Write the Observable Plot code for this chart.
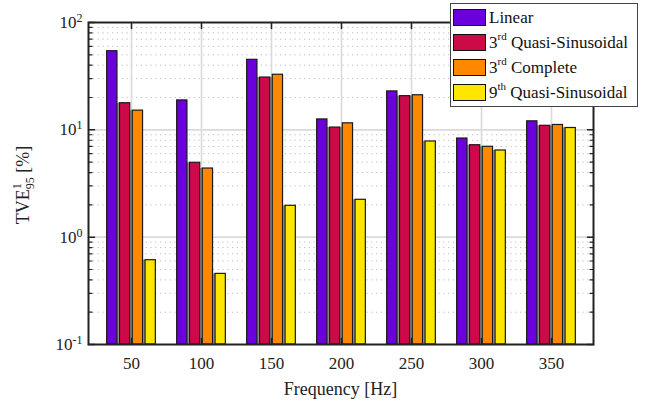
<!DOCTYPE html>
<html><head><meta charset="utf-8">
<script src="https://cdn.jsdelivr.net/npm/d3@7"></script>
<script src="https://cdn.jsdelivr.net/npm/@observablehq/plot@0.6"></script>
<style>
body{margin:0;background:#fff;}
#wrap{position:relative;width:652px;height:405px;font-family:"Liberation Serif","Times New Roman",serif;background:#fff;}
#legend{position:absolute;left:450px;top:3px;width:188px;height:104px;border:1.5px solid #444;background:#fff;box-sizing:border-box;padding-top:1px;}
.row{display:flex;align-items:center;height:25px;}
.sw{width:33px;height:17px;border:1.5px solid #111;box-sizing:border-box;margin:0 3px 0 2px;flex:none;}
.lab{font-size:17px;color:#111;white-space:nowrap;line-height:17px;}
.lab sup{font-size:11px;line-height:0;position:relative;top:-1px;}
</style>
</head><body>
<div id="wrap"></div>
<script>
const freqs = [50, 100, 150, 200, 250, 300, 350];
const seriesNames = ["Linear", "3<sup>rd</sup> Quasi-Sinusoidal", "3<sup>rd</sup> Complete", "9<sup>th</sup> Quasi-Sinusoidal"];
const linear    = [54.0, 18.8, 44.9, 12.5, 22.8, 8.30, 12.0];
const quasi3    = [17.7, 4.93, 30.7, 10.5, 20.6, 7.19, 10.9];
const complete3 = [15.1, 4.36, 32.6, 11.5, 21.0, 6.95, 11.1];
const quasi9    = [0.61, 0.455, 1.96, 2.23, 7.79, 6.42, 10.4];
const colors = ["#6a00dc", "#cc0a48", "#ff8800", "#ffe600"];
const yTicks = [0.1, 1, 10, 100];
const yDomain = [0.1, 100];

const W = 652, H = 405, mL = 88, mR = 59, mT = 22, mB = 61;
const seriesValues = [linear, quasi3, complete3, quasi9];
const bandwidth = (W - mL - mR) / (freqs.length + 0.2) * 0.8;
const barW = 10.4, step = 12.8;
const barInset = (bandwidth - barW) / 2;
const gapW = step - barW + 0.6;
const gapInset = (bandwidth - gapW) / 2;

const allTicks = d3.scaleLog().domain(yDomain).ticks();
const minor = allTicks.filter(v => !yTicks.some(t => Math.abs(t - v) < 1e-9));
const majorInner = yTicks.slice(1, -1);

const tickShape = {draw(ctx, l) { ctx.moveTo(0, 0); ctx.lineTo(0, -l); }};

const marks = [];
// grids
marks.push(Plot.ruleY(minor, {y: d => d, stroke: "#bdbdbd", strokeWidth: 1, strokeDasharray: "1.2,3.6"}));
marks.push(Plot.ruleY(majorInner, {y: d => d, stroke: "#dadada", strokeWidth: 1.6}));
marks.push(Plot.ruleX(freqs, {x: d => d, stroke: "#dadada", strokeWidth: 1.6}));
// gap shading between adjacent bars
for (let i = 1; i < 4; i++) {
  const data = freqs.map((f, j) => ({freq: f, base: yDomain[0], top: Math.min(seriesValues[i - 1][j], seriesValues[i][j])}));
  marks.push(Plot.barY(data, {x: "freq", y1: "base", y2: "top", fill: "#9a9a9a", insetLeft: gapInset, insetRight: gapInset, dx: (i - 1.5) * step - step / 2}));
}
// bars
seriesValues.forEach((vals, i) => {
  const data = freqs.map((f, j) => ({freq: f, base: yDomain[0], value: vals[j]}));
  marks.push(Plot.barY(data, {x: "freq", y1: "base", y2: "value", fill: colors[i], stroke: "#1a1a1a", strokeWidth: 1.2, insetLeft: barInset, insetRight: barInset, dx: (i - 1.5) * step}));
});
// inward ticks
marks.push(Plot.vector(yTicks, {y: d => d, frameAnchor: "left", rotate: 90, length: 6, anchor: "start", shape: tickShape, stroke: "#222", strokeWidth: 1.5}));
marks.push(Plot.vector(yTicks, {y: d => d, frameAnchor: "right", rotate: -90, length: 6, anchor: "start", shape: tickShape, stroke: "#222", strokeWidth: 1.5}));
marks.push(Plot.vector(minor, {y: d => d, frameAnchor: "left", rotate: 90, length: 3.5, anchor: "start", shape: tickShape, stroke: "#222", strokeWidth: 1.2}));
marks.push(Plot.vector(minor, {y: d => d, frameAnchor: "right", rotate: -90, length: 3.5, anchor: "start", shape: tickShape, stroke: "#222", strokeWidth: 1.2}));
marks.push(Plot.vector(freqs, {x: d => d, frameAnchor: "top", rotate: 180, length: 6, anchor: "start", shape: tickShape, stroke: "#222", strokeWidth: 1.5}));
marks.push(Plot.vector(freqs, {x: d => d, frameAnchor: "bottom", rotate: 0, length: 6, anchor: "start", shape: tickShape, stroke: "#222", strokeWidth: 1.5}));
// axes
marks.push(Plot.axisX(freqs, {tickSize: 0, tickPadding: 12, fontSize: 17, label: null, fill: "#222"}));
marks.push(Plot.axisY(yTicks, {tickSize: 0, tickPadding: 6, fontSize: 17, label: null, fill: "#222", tickFormat: d => "10|" + Math.round(Math.log10(d))}));
marks.push(Plot.frame({stroke: "#222", strokeWidth: 2}));

const plot = Plot.plot({
  width: W, height: H,
  marginLeft: mL, marginRight: mR, marginTop: mT, marginBottom: mB,
  style: {fontFamily: '"Liberation Serif", "Times New Roman", serif', background: "#fff", color: "#222"},
  x: {type: "band", domain: freqs, padding: 0.2, axis: null},
  y: {type: "log", domain: yDomain, axis: null},
  marks
});

const svg = d3.select(plot);
// superscript exponents on y tick labels
svg.selectAll('g[aria-label="y-axis tick label"] text').each(function() {
  const t = d3.select(this);
  const s = this.textContent.split("|");
  if (s.length !== 2) return;
  t.text(null);
  t.append("tspan").text(s[0]);
  t.append("tspan").attr("dy", "-0.5em").attr("font-size", 12).text(s[1]);
});
// y label
const cy = (mT + H - mB) / 2 + 2;
const yl = svg.append("text").attr("transform", `translate(29,${cy}) rotate(-90)`)
  .attr("text-anchor", "middle").attr("font-size", 18).attr("fill", "#222")
  .attr("font-family", '"Liberation Serif", "Times New Roman", serif');
yl.append("tspan").text("TVE");
yl.append("tspan").attr("font-size", 12).attr("dy", -8).text("1");
yl.append("tspan").attr("font-size", 12).attr("dx", -6).attr("dy", 13).text("95");
yl.append("tspan").attr("dy", -5).text(" [%]");
// x label
svg.append("text").attr("x", (mL + W - mR) / 2).attr("y", 395)
  .attr("text-anchor", "middle").attr("font-size", 18).attr("fill", "#222")
  .attr("font-family", '"Liberation Serif", "Times New Roman", serif')
  .text("Frequency [Hz]");

const wrap = document.getElementById("wrap");
wrap.appendChild(plot);
const legend = document.createElement("div");
legend.id = "legend";
seriesNames.forEach((n, i) => {
  const r = document.createElement("div");
  r.className = "row";
  r.innerHTML = `<div class="sw" style="background:${colors[i]}"></div><div class="lab">${n}</div>`;
  legend.appendChild(r);
});
wrap.appendChild(legend);
</script>
</body></html>
